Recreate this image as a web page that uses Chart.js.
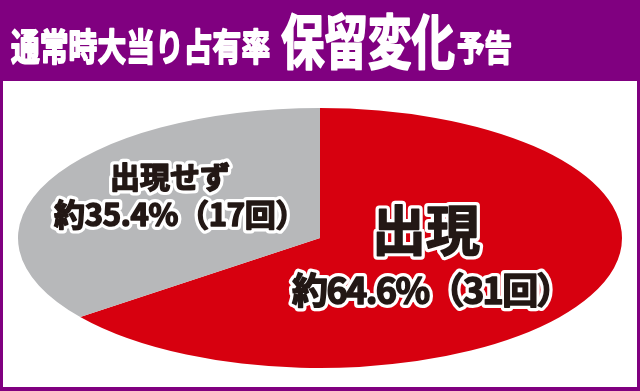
<!DOCTYPE html>
<html lang="ja">
<head>
<meta charset="utf-8">
<script src="https://cdn.jsdelivr.net/npm/chart.js@4/dist/chart.umd.min.js"></script>
<style>
  html, body { margin: 0; padding: 0; }
  body { width: 640px; height: 391px; background: #800080; position: relative; overflow: hidden; }
  #panel { position: absolute; left: 3px; top: 81px; width: 634px; height: 306px; background: #fff; }
  #pie { position: absolute; left: 0; top: 0; }
</style>
</head>
<body>
<div id="panel"></div>
<canvas id="pie" width="640" height="391"></canvas>
<script>
// 通常時大当り占有率 / 保留変化予告
const categories = ['出現', '出現せず'];
const shares = [64.6, 35.4];
const counts = [31, 17];
const colors = ['#d7000f', '#b7b8ba'];

const FONT = '"Noto Sans CJK JP", "Noto Sans", sans-serif';
const stretchX = 302 / 130; // pie is drawn squashed into an ellipse

// label placement, relative to the pie centre
const labelStyle = [
  { size1: 54, size2: 36, dx1: 106, dy1: 13, dx2: -28, dy2: 66, sp: -1.6 },
  { size1: 30, size2: 31, dx1: -150, dy1: -50, dx2: -266, dy2: -12, sp: -0.3 }
];

function outlined(ctx, text, x, y, size, align, sp) {
  ctx.save();
  ctx.font = 'bold ' + size + 'px ' + FONT;
  ctx.letterSpacing = (sp || 0) + 'px';
  ctx.textAlign = align;
  ctx.textBaseline = 'alphabetic';
  ctx.lineJoin = 'round';
  ctx.lineWidth = 8;
  ctx.strokeStyle = '#ffffff';
  ctx.strokeText(text, x, y);
  ctx.fillStyle = '#231815';
  ctx.fillText(text, x, y);
  ctx.lineWidth = 1.6;
  ctx.strokeStyle = '#231815';
  ctx.strokeText(text, x, y);
  ctx.restore();
}

function titlePart(ctx, text, x, base, size, sy) {
  ctx.save();
  ctx.translate(x, base);
  ctx.scale(1, sy);
  ctx.font = 'bold ' + size + 'px ' + FONT;
  ctx.fillStyle = '#ffffff';
  ctx.strokeStyle = '#ffffff';
  ctx.lineWidth = 1.4;
  ctx.lineJoin = 'round';
  ctx.textAlign = 'left';
  ctx.textBaseline = 'alphabetic';
  ctx.fillText(text, 0, 0);
  ctx.strokeText(text, 0, 0);
  ctx.restore();
}

const ellipsePlugin = {
  id: 'ellipse',
  beforeDatasetsDraw: function (chart) {
    const ctx = chart.ctx;
    const cx = (chart.chartArea.left + chart.chartArea.right) / 2;
    ctx.save();
    ctx.translate(cx, 0);
    ctx.scale(stretchX, 1);
    ctx.translate(-cx, 0);
  },
  afterDatasetsDraw: function (chart) {
    const ctx = chart.ctx;
    ctx.restore();
    const meta = chart.getDatasetMeta(0);
    meta.data.forEach(function (arc, i) {
      const s = labelStyle[i];
      outlined(ctx, categories[i], arc.x + s.dx1, arc.y + s.dy1, s.size1, 'center', 0);
      outlined(ctx, '約' + shares[i] + '%（' + counts[i] + '回）', arc.x + s.dx2, arc.y + s.dy2, s.size2, 'left', s.sp);
    });
  },
  afterDraw: function (chart) {
    const ctx = chart.ctx;
    titlePart(ctx, '通常時大当り占有率', 11, 61, 28.8, 1.3);
    titlePart(ctx, '保留変化', 281, 64, 43.5, 1.36);
    titlePart(ctx, '予告', 457, 61, 27.5, 1.3);
  }
};

new Chart(document.getElementById('pie'), {
  type: 'pie',
  data: {
    labels: categories,
    datasets: [{
      data: shares,
      backgroundColor: colors,
      borderWidth: 0,
      clip: false
    }]
  },
  options: {
    responsive: false,
    animation: false,
    events: [],
    devicePixelRatio: 1,
    layout: { padding: { top: 108, bottom: 23, left: 190, right: 190 } },
    plugins: {
      legend: { display: false },
      tooltip: { enabled: false },
      title: { display: false }
    }
  },
  plugins: [ellipsePlugin]
});
</script>
</body>
</html>
